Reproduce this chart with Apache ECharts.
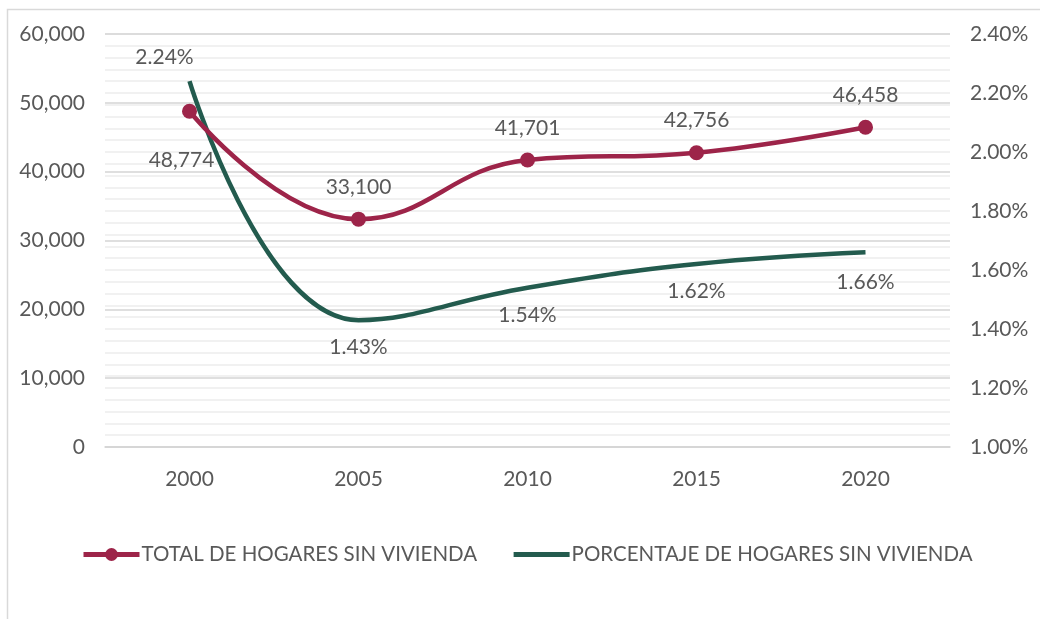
<!DOCTYPE html>
<html>
<head>
<meta charset="utf-8">
<script src="https://cdn.jsdelivr.net/npm/echarts@6/dist/echarts.min.js"></script>
<style>
  html, body { margin: 0; padding: 0; background: #ffffff; }
  #chart { width: 1040px; height: 619px; }
</style>
</head>
<body>
<div id="chart"></div>
<script>
// Years on the category axis
const years = ['2000', '2005', '2010', '2015', '2020'];
// Total households without housing (left axis)
const totalHogares = [48774, 33100, 41701, 42756, 46458];
// Share of households without housing, in percent (right axis)
const porcentajeHogares = [2.24, 1.43, 1.54, 1.62, 1.66];

const seriesNames = ['TOTAL DE HOGARES SIN VIVIENDA', 'PORCENTAJE DE HOGARES SIN VIVIENDA'];

const RED = '#9D2449';
const GREEN = '#235B4E';
const TEXT = '#595959';
const FONT = 'Lato';
const FS = 21;

// per-point label placement
const totalLabelPos = [
  { position: 'bottom', offset: [-8, 26] },
  { position: 'top', offset: [0, -9] },
  { position: 'top', offset: [0, -9] },
  { position: 'top', offset: [0, -9] },
  { position: 'top', offset: [0, -9] }
];
const pctLabelPos = [
  { position: 'top', offset: [-25, -8] },
  { position: 'bottom', offset: [0, 12] },
  { position: 'bottom', offset: [0, 12] },
  { position: 'bottom', offset: [0, 12] },
  { position: 'bottom', offset: [0, 14] }
];

const chart = echarts.init(document.getElementById('chart'), null, { renderer: 'canvas' });

chart.setOption({
  backgroundColor: '#ffffff',
  animation: false,
  textStyle: { fontFamily: FONT, color: TEXT },
  graphic: [{
    type: 'rect',
    shape: { x: 7.5, y: 9.5, width: 1100, height: 700 },
    style: { fill: 'none', stroke: '#d9d9d9', lineWidth: 1.5 },
    silent: true,
    z: -10
  }],
  grid: { left: 105, right: 90, top: 34, bottom: 172, containLabel: false },
  legend: {
    data: [
      { name: seriesNames[0] },
      { name: seriesNames[1], itemStyle: { opacity: 0 } }
    ],
    bottom: 49,
    left: 76,
    itemWidth: 56,
    itemHeight: 16,
    itemGap: 34,
    lineStyle: { width: 5 },
    textStyle: { fontFamily: FONT, fontSize: 20.5, color: TEXT, padding: [0, 0, 0, -3] }
  },
  xAxis: {
    type: 'category',
    data: years,
    boundaryGap: true,
    axisLine: { show: true, lineStyle: { color: '#d4d4d4', width: 1.5 } },
    axisTick: { show: false },
    axisLabel: { fontFamily: FONT, fontSize: FS, color: TEXT, margin: 22 }
  },
  yAxis: [
    {
      type: 'value',
      min: 0,
      max: 60000,
      interval: 10000,
      axisLine: { show: false },
      axisTick: { show: false },
      axisLabel: {
        fontFamily: FONT, fontSize: FS, color: TEXT, margin: 20,
        formatter: v => v.toLocaleString('en-US')
      },
      splitLine: { show: true, lineStyle: { color: '#d4d4d4', width: 1.5 } },
      z: 3
    },
    {
      type: 'value',
      position: 'right',
      min: 1.0,
      max: 2.4,
      interval: 0.2,
      axisLine: { show: false },
      axisTick: { show: false },
      axisLabel: {
        fontFamily: FONT, fontSize: FS, color: TEXT, margin: 20,
        formatter: v => v.toFixed(2) + '%'
      },
      splitLine: { show: true, lineStyle: { color: '#ededed', width: 1.5 } },
      minorTick: { show: false, splitNumber: 5 },
      minorSplitLine: { show: true, lineStyle: { color: '#ededed', width: 1.5 } }
    }
  ],
  series: [
    {
      name: seriesNames[0],
      type: 'line',
      yAxisIndex: 0,
      data: totalHogares.map((v, i) => ({
        value: v,
        label: totalLabelPos[i]
      })),
      smooth: 0.45,
      symbol: 'circle',
      symbolSize: 15,
      itemStyle: { color: RED },
      lineStyle: { color: RED, width: 4.5 },
      label: {
        show: true,
        fontFamily: FONT, fontSize: FS, color: TEXT,
        formatter: p => p.value.toLocaleString('en-US')
      },
      z: 5
    },
    {
      name: seriesNames[1],
      type: 'line',
      yAxisIndex: 1,
      data: porcentajeHogares.map((v, i) => ({
        value: v,
        label: pctLabelPos[i]
      })),
      smooth: 0.45,
      symbol: 'circle',
      symbolSize: 0.01,
      showSymbol: true,
      itemStyle: { color: GREEN },
      lineStyle: { color: GREEN, width: 4.5 },
      label: {
        show: true,
        fontFamily: FONT, fontSize: FS, color: TEXT,
        formatter: p => p.value.toFixed(2) + '%'
      },
      z: 4
    }
  ]
});
</script>
</body>
</html>
